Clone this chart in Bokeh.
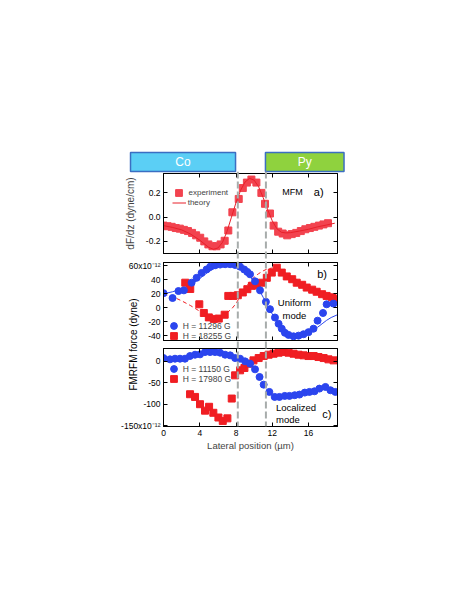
from bokeh.plotting import figure
from bokeh.models import (GridBox, Span, Label, Legend, LegendItem, FixedTicker,
                          LinearAxis, Range1d, CustomLabelingPolicy)
from bokeh.embed import file_html
from bokeh.resources import INLINE
from bokeh.core.properties import value

# ---------------- data ----------------
region_names = ["Co", "Py"]
region_left = [-3.64, 11.25]
region_right = [7.95, 19.92]
interfaces = [8.2, 11.3]

x_ticks = [0, 4, 8, 12, 16]
x_tick_labels = ["0", "4", "8", "12", "16"]

a_ticks = [-0.2, 0.0, 0.2]
a_tick_labels = ["-0.2", "0.0", "0.2"]
b_ticks = [-40, -20, 0, 20, 40, 60]
b_tick_labels = ["-40", "-20", "0", "20", "40", "60x10\u207b\u00b9\u00b2"]
c_ticks = [-150, -100, -50, 0]
c_tick_labels = ["-150x10\u207b\u00b9\u00b2", "-100", "-50", "0"]

# panel a: MFM
a_x_exp = [0.0, 0.45, 0.9, 1.35, 1.8, 2.25, 2.7, 3.15, 3.6, 4.05, 4.5, 4.95, 5.4, 5.85,
           6.3, 6.75, 7.15, 7.6, 8.3, 8.75, 9.2, 9.7, 10.25, 10.8, 11.2, 11.75, 12.15,
           12.65, 13.15, 13.65, 14.15, 14.65, 15.15, 15.65, 16.15, 16.65, 17.15, 17.65, 18.15]
a_y_exp = [-0.07, -0.075, -0.08, -0.09, -0.095, -0.105, -0.115, -0.13, -0.15, -0.17, -0.2,
           -0.225, -0.24, -0.24, -0.225, -0.195, -0.11, 0.04, 0.15, 0.24, 0.285, 0.31, 0.285,
           0.2, 0.11, 0.03, -0.07, -0.12, -0.135, -0.15, -0.14, -0.13, -0.115, -0.1, -0.09,
           -0.08, -0.07, -0.06, -0.05]
a_x_th = [0, 1, 2, 3, 4, 4.5, 5, 5.5, 6, 6.5, 7, 7.5, 8, 8.5, 9, 9.5, 10, 10.5, 11, 11.5,
          12, 12.5, 13, 13.5, 14, 15, 16, 17, 18, 18.9]
a_y_th = [-0.07, -0.085, -0.105, -0.14, -0.19, -0.22, -0.25, -0.265, -0.255, -0.21, -0.12,
          0.0, 0.12, 0.22, 0.29, 0.32, 0.305, 0.25, 0.16, 0.06, -0.03, -0.095, -0.125, -0.13,
          -0.128, -0.115, -0.1, -0.08, -0.065, -0.05]

# panel b: uniform mode (units of 1e-12 dyne)
b_x_blue = [0.0, 1.0, 1.65, 2.25, 3.1, 3.65, 4.2, 4.75, 5.15, 5.7, 6.25, 6.8, 7.35, 7.9,
            8.45, 8.9, 9.25, 9.55, 10.1, 10.65, 11.3, 11.75, 12.3, 12.7, 13.05, 13.4, 13.8,
            14.35, 14.9, 15.45, 16.0, 16.55, 17.0, 17.6, 18.0, 18.75]
b_y_blue = [21, 14, 24, 25, 36, 43, 50, 55, 59, 61, 62, 62.5, 62.5, 61.5, 59, 55, 51.5, 48,
            38, 25, 8.5, -2, -14, -23, -30, -36, -39, -41, -40, -38, -35, -30, -18.5, -7.5,
            5, 6]
b_x_blue_th = [0, 1, 2, 3, 4, 5, 6, 7, 8, 8.5, 9, 9.5, 10, 10.5, 11, 11.5, 12, 12.5, 13,
               13.5, 14, 14.5, 15, 15.5, 16, 16.5, 17, 17.5, 18, 18.5, 19.2]
b_y_blue_th = [20, 23, 27, 33, 42, 52, 59, 62.5, 61, 58, 53, 46, 37, 27, 15, 3, -9, -20,
               -29, -36, -40, -42, -42, -40, -37, -33, -28, -23, -18, -14, -10]
b_x_red = [2.4, 2.95, 3.95, 4.45, 5.0, 5.55, 6.1, 6.75, 7.15, 7.7, 8.2, 8.75, 9.25, 9.75,
           10.3, 10.85, 11.4, 11.95, 12.5, 13.05, 13.6, 14.2, 14.7, 15.3, 15.8, 16.4, 16.9,
           17.5, 18.0, 18.6, 18.9]
b_y_red = [36, 27, 5, -7.5, -13.8, -16, -15.5, -10, 17, 17, 18, 22, 26.7, 31.5, 32.4, 36,
           43, 50.5, 57.5, 50.5, 45, 41, 36, 33, 29, 26, 23, 19.5, 17, 15, 13]
b_x_red_th = [0, 1, 2, 3, 4, 5, 5.5, 6, 6.5, 7, 7.5, 8, 8.5, 9, 9.5, 10, 10.5, 11, 11.5,
              12, 12.5, 13, 14, 15, 16, 17, 18, 19.2]
b_y_red_th = [20, 16, 10, 3, -5, -12, -14, -13.5, -11, -7, -2, 6, 17, 28, 37, 44, 49, 53,
              56, 57, 56, 53, 46, 38, 31, 25, 20, 15]

# panel c: localized mode (units of 1e-12 dyne)
c_x_blue = [0.0, 0.72, 1.27, 1.82, 2.37, 2.92, 3.48, 4.03, 4.58, 5.14, 5.69, 6.24, 6.8,
            7.35, 7.9, 8.45, 9.0, 9.56, 10.1, 10.6, 11.05, 11.68, 12.27, 12.79, 13.38, 13.9,
            14.48, 15.0, 15.59, 16.1, 16.66, 17.2, 17.87, 18.42, 18.97]
c_y_blue = [7.7, 4.7, 6.2, 6.2, 6.2, 12.4, 15.5, 16.3, 21.7, 21.7, 21.7, 20.2, 15.5, 14,
            7.7, 6.2, 0, -5.4, -18.6, -36.4, -54.3, -71.3, -83, -83, -80.6, -80.6, -79,
            -77.5, -72.9, -71.3, -69.8, -63.6, -59.7, -67.4, -71.3]
c_x_red = [2.93, 3.48, 4.03, 4.58, 5.03, 5.5, 6.06, 6.54, 7.05, 7.53, 7.9, 8.45, 8.93, 9.45,
           9.93, 10.5, 11.05, 11.6, 12.15, 12.7, 13.25, 13.8, 14.35, 14.9, 15.45, 16.0,
           16.57, 17.1, 17.67, 18.2, 18.77]
c_y_red = [-76.7, -83, -100, -115, -106, -120, -131, -139, -133, -86.8, -32.6, -20.9, -15.5,
           -5.4, 2.3, 7.7, 12.4, 15.5, 17.8, 20.2, 21.7, 20.2, 17.8, 15.5, 14, 12.4, 12.4,
           10.1, 7.7, 4.7, 2.3]

# ---------------- style ----------------
FONT = "'Liberation Sans', Arial, sans-serif"
RED_A = "#f2434f"
RED = "#f01e23"
BLUE = "#2b45ee"
DASH_GRAY = "#a7acab"
W = 368
XR = (0, 19.2)
TICK_FS = "8.5px"

NO_LABELS = CustomLabelingPolicy(code="return new Set()")


def bare_axis(ax, ticks):
    ax.ticker = FixedTicker(ticks=ticks)
    ax.major_label_policy = NO_LABELS
    ax.major_label_text_font_size = "0px"
    ax.major_label_standoff = 0
    ax.major_tick_in = 4
    ax.major_tick_out = 0
    ax.minor_tick_in = 0
    ax.minor_tick_out = 0
    ax.axis_line_color = "black"


def labelled_axis(ax, ticks, labels):
    ax.ticker = FixedTicker(ticks=ticks)
    ax.major_label_overrides = dict(zip(ticks, labels))
    ax.major_tick_in = 4
    ax.major_tick_out = 0
    ax.minor_tick_in = 0
    ax.minor_tick_out = 0
    ax.axis_line_color = "black"
    ax.major_label_text_font = FONT
    ax.major_label_text_font_size = TICK_FS
    ax.major_label_text_color = "black"
    ax.major_label_standoff = 3


def panel(yr, yticks, ylabels, height, top, bottom, show_x_labels=False):
    p = figure(width=W, height=height, x_range=Range1d(*XR), y_range=Range1d(*yr),
               toolbar_location=None, output_backend="svg", frame_align=False,
               min_border_left=163, min_border_right=31,
               min_border_top=top, min_border_bottom=bottom,
               outline_line_color="black", outline_line_width=1,
               border_fill_color="white", background_fill_color="white")
    p.grid.visible = False
    xax = p.xaxis[0]
    yax = p.yaxis[0]
    if show_x_labels:
        labelled_axis(xax, x_ticks, x_tick_labels)
    else:
        bare_axis(xax, x_ticks)
    labelled_axis(yax, yticks, ylabels)
    ra = LinearAxis()
    bare_axis(ra, yticks)
    p.add_layout(ra, "right")
    ta = LinearAxis()
    bare_axis(ta, x_ticks)
    p.add_layout(ta, "above")
    return p, xax, yax


def add_legend(p, label, rend, loc, gw=17, gh=17, standoff=1, fs="8.5px"):
    leg = Legend(items=[LegendItem(label=label, renderers=[rend])], location=loc,
                 orientation="vertical", padding=0, margin=0, spacing=0,
                 glyph_width=gw, glyph_height=gh, label_height=gh, label_width=10,
                 label_standoff=standoff, label_text_font=FONT, label_text_font_size=fs,
                 background_fill_alpha=0, border_line_alpha=0)
    p.add_layout(leg)


def add_text(p, x, y, text, size, align="left"):
    p.add_layout(Label(x=x, y=y, x_units="screen", y_units="screen", text=text,
                       text_font=FONT, text_font_size=size, text_align=align,
                       text_baseline="middle", text_color="black"))


# ---------------- strip with Co / Py ----------------
strip = figure(width=W, height=173, x_range=Range1d(-3.862, 20.083), y_range=Range1d(0, 1),
               toolbar_location=None, output_backend="svg", frame_align=False,
               x_axis_type=None, y_axis_type=None,
               min_border_left=128, min_border_right=23, min_border_top=150,
               min_border_bottom=0, outline_line_color=None,
               border_fill_color="white", background_fill_color="white")
strip.grid.visible = False
strip.quad(left=region_left, right=region_right, bottom=[0.087, 0.087], top=[0.913, 0.913],
           fill_color=["#5bcff5", "#8fd23e"], line_color="#3b6ec2", line_width=1.5)
strip.text(x=[(l + r) / 2 for l, r in zip(region_left, region_right)], y=[0.5, 0.5],
           text=region_names, text_align="center", text_baseline="middle",
           text_color="white", text_font=value(FONT), text_font_size="12px")

# ---------------- panel a ----------------
pa, pa_x, pa_y = panel((-0.3, 0.36), a_ticks, a_tick_labels, 84, 0, 4)
pa_y.axis_label = "dF/dz (dyne/cm)"
pa_y.axis_label_text_font = FONT
pa_y.axis_label_text_font_size = "10px"
pa_y.axis_label_text_font_style = "normal"
pa_y.axis_label_standoff = 7
ra_exp = pa.scatter(a_x_exp, a_y_exp, marker="square", size=7, color=RED_A)
ra_th = pa.line(a_x_th, a_y_th, line_color="#e8202a", line_width=1)
add_legend(pa, "experiment", ra_exp, (6.5, 51.8), standoff=2, fs="8px")
add_legend(pa, "theory", ra_th, (8.7, 45.3), gw=14, gh=11, standoff=2, fs="8px")
add_text(pa, 118.7, 61.3, "MFM", "9px")
add_text(pa, 150.3, 62, "a)", "11px")

# ---------------- panel b ----------------
pb, pb_x, pb_y = panel((-47, 65), b_ticks, b_tick_labels, 87, 5, 4)
pb.line(b_x_red_th, b_y_red_th, line_color=RED, line_width=1, line_dash="4 3")
pb.line(b_x_blue_th, b_y_blue_th, line_color=BLUE, line_width=1)
rb_red = pb.scatter(b_x_red, b_y_red, marker="square", size=7, color=RED)
rb_blue = pb.scatter(b_x_blue, b_y_blue, marker="circle", size=7, color=BLUE)
add_legend(pb, "H = 11296 G", rb_blue, (1.8, 6))
add_legend(pb, "H = 18255 G", rb_red, (1.8, -4))
add_text(pb, 153.7, 67, "b)", "11px")
add_text(pb, 131, 38, "Uniform", "9.5px", "center")
add_text(pb, 131, 25, "mode", "9.5px", "center")

# ---------------- panel c ----------------
pc, pc_x, pc_y = panel((-152, 30), c_ticks, c_tick_labels, 112, 4, 30, show_x_labels=True)
pc_x.axis_label = "Lateral position (\u00b5m)"
pc_x.axis_label_text_font = FONT
pc_x.axis_label_text_font_size = "9.5px"
pc_x.axis_label_text_font_style = "normal"
pc_x.axis_label_standoff = 1
rc_red = pc.scatter(c_x_red, c_y_red, marker="square", size=7, color=RED)
rc_blue = pc.scatter(c_x_blue, c_y_blue, marker="circle", size=7, color=BLUE)
add_legend(pc, "H = 11150 G", rc_blue, (1.8, 49))
add_legend(pc, "H = 17980 G", rc_red, (1.8, 39))
add_text(pc, 112.5, 19.3, "Localized", "9.5px")
add_text(pc, 112.5, 6.7, "mode", "9.5px")
add_text(pc, 158.7, 12.7, "c)", "11px")

# ---------------- overlay: interface lines and shared y label ----------------
H_TOTAL = 173 + 84 + 87 + 112
ov = figure(width=W, height=H_TOTAL, x_range=Range1d(-4.745, 19.2), y_range=Range1d(0, 1),
            toolbar_location=None, output_backend="svg", frame_align=False,
            x_axis_type=None, y_axis_type=None,
            min_border_left=120, min_border_right=31, min_border_top=171,
            min_border_bottom=30, outline_line_color=None,
            background_fill_alpha=0, border_fill_alpha=0)
ov.grid.visible = False
for xi in interfaces:
    ov.add_layout(Span(location=xi, dimension="height", line_color=DASH_GRAY,
                       line_width=2, line_dash="7 3"))
ov.add_layout(Label(x=13, y=82, x_units="screen", y_units="screen",
                    text="FMRFM force (dyne)", angle=90, angle_units="deg",
                    text_align="center", text_baseline="middle", text_font=FONT,
                    text_font_size="10px", text_color="black"))

grid = GridBox(children=[(strip, 0, 0), (pa, 1, 0), (pb, 2, 0), (pc, 3, 0),
                         (ov, 0, 0, 4, 1)], spacing=0)

open("out.html", "w").write(file_html(grid, INLINE))
